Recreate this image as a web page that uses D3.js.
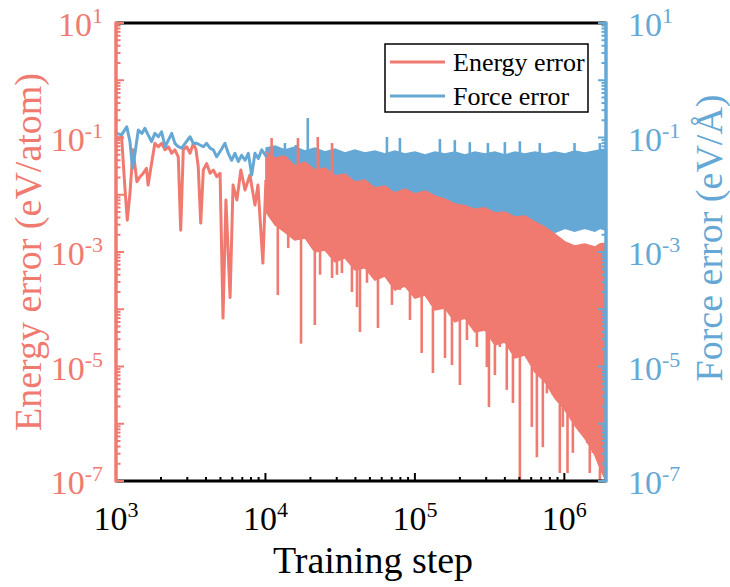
<!DOCTYPE html>
<html>
<head>
<meta charset="utf-8">
<script src="https://cdn.jsdelivr.net/npm/d3@7.9.0/dist/d3.min.js"></script>
<style>
  body { margin: 0; background: #fff; }
  svg { display: block; }
  text { font-family: 'Liberation Serif'; }
</style>
</head>
<body>
<svg id="chart" width="730" height="587"></svg>
<script>
// early part of the curves (single visible line)
const forceEarlySteps = [1010, 1090, 1180, 1240, 1290, 1340, 1410, 1490, 1560, 1640, 1730, 1820, 1920, 2020, 2130, 2240, 2360, 2480, 2610, 2750, 2900, 3130, 3290, 3470, 3650, 3840, 4040, 4260, 4480, 4720, 4970, 5360, 5640, 5940, 6250, 6580, 6930, 7300, 7680, 8090, 8510, 8960, 9440, 10190];
const forceEarlyErr = [0.118, 0.111, 0.154, 0.085, 0.029, 0.053, 0.135, 0.118, 0.145, 0.111, 0.085, 0.118, 0.103, 0.126, 0.069, 0.090, 0.118, 0.079, 0.069, 0.065, 0.079, 0.103, 0.079, 0.079, 0.074, 0.069, 0.079, 0.065, 0.061, 0.046, 0.057, 0.079, 0.053, 0.040, 0.053, 0.038, 0.049, 0.040, 0.053, 0.022, 0.053, 0.043, 0.061, 0.046];

const energyEarlySteps = [1000, 1040, 1090, 1150, 1190, 1240, 1300, 1380, 1450, 1520, 1600, 1640, 1730, 1820, 1920, 2020, 2130, 2240, 2360, 2480, 2610, 2710, 2820, 2970, 3130, 3290, 3430, 3550, 3690, 3840, 4040, 4260, 4480, 4720, 4970, 5200, 5440, 5800, 6070, 6440, 6850, 7300, 7870, 8510, 8910, 9610, 10070];
const energyEarlyErr = [0.103, 0.097, 0.103, 0.0121, 0.0036, 0.0106, 0.061, 0.0169, 0.0207, 0.0237, 0.029, 0.0148, 0.035, 0.079, 0.069, 0.079, 0.061, 0.069, 0.053, 0.061, 0.046, 0.0024, 0.061, 0.069, 0.053, 0.079, 0.061, 0.031, 0.0032, 0.027, 0.035, 0.0237, 0.027, 0.0207, 0.0237, 7.0e-5, 0.0081, 1.6e-4, 0.0148, 0.0081, 0.027, 0.0121, 0.0221, 0.0066, 0.0148, 6.4e-4, 0.0181];

// dense part: upper / lower envelope of the oscillating curves
const denseSteps = [1.01e4, 1.16e4, 1.35e4, 1.57e4, 1.84e4, 2.14e4, 2.50e4, 2.92e4, 3.40e4, 3.97e4, 4.63e4, 5.40e4, 6.30e4, 7.35e4, 8.57e4, 1.00e5, 1.17e5, 1.36e5, 1.59e5, 1.85e5, 2.16e5, 2.52e5, 2.94e5, 3.43e5, 4.00e5, 4.67e5, 5.44e5, 6.35e5, 7.41e5, 8.64e5, 1.01e6, 1.17e6, 1.37e6, 1.60e6, 1.73e6, 1.90e6];
const forceBandHigh = [0.0656, 0.0711, 0.0605, 0.0682, 0.0581, 0.0656, 0.0558, 0.0630, 0.0536, 0.0605, 0.0536, 0.0581, 0.0515, 0.0581, 0.0515, 0.0558, 0.0494, 0.0558, 0.0515, 0.0558, 0.0494, 0.0558, 0.0515, 0.0558, 0.0494, 0.0558, 0.0515, 0.0558, 0.0515, 0.0558, 0.0515, 0.0581, 0.0536, 0.0581, 0.0605, 0.0630];
const forceBandLow = [0.0181, 0.0148, 0.0131, 0.0112, 0.0103, 0.0095, 0.0088, 0.0081, 0.0078, 0.0072, 0.0066, 0.0061, 0.0056, 0.0052, 0.0050, 0.0046, 0.0043, 0.0039, 0.0038, 0.0036, 0.0035, 0.0033, 0.0032, 0.0031, 0.0030, 0.0028, 0.0028, 0.0027, 0.0026, 0.0022, 0.0026, 0.0023, 0.0026, 0.0023, 0.0026, 0.0024];
const energyBandHigh = [0.0558, 0.0438, 0.0475, 0.0318, 0.0373, 0.0271, 0.0293, 0.0213, 0.0230, 0.0167, 0.0181, 0.0131, 0.0142, 0.0107, 0.0126, 0.0103, 0.0116, 0.0095, 0.0084, 0.0069, 0.0064, 0.0056, 0.0059, 0.0048, 0.0050, 0.0041, 0.00425, 0.00334, 0.00273, 0.00206, 0.0015, 0.00127, 0.00138, 0.00122, 0.00138, 0.00144];
const energyBandLow = [0.0050, 0.00296, 0.00223, 0.00162, 0.00176, 1.0e-3, 0.00108, 6.7e-4, 7.9e-4, 4.85e-4, 5.3e-4, 3.24e-4, 3.81e-4, 2.17e-4, 2.55e-4, 1.57e-4, 1.77e-4, 9.7e-5, 1.05e-4, 6.0e-5, 7.0e-5, 4.0e-5, 4.35e-5, 2.38e-5, 2.68e-5, 1.41e-5, 1.59e-5, 8.0e-6, 5.4e-6, 2.8e-6, 1.74e-6, 9.5e-7, 5.6e-7, 2.85e-7, 1.69e-7, 1.0e-7];

// single excursions sticking out of the bands
const energyDipSteps = [1.21e4, 1.42e4, 1.73e4, 2.14e4, 2.32e4, 2.79e4, 3.01e4, 3.25e4, 3.79e4, 4.10e4, 4.29e4, 4.78e4, 5.66e4, 6.30e4, 7.02e4, 7.94e4, 9.27e4, 1.11e5, 1.20e5, 1.32e5, 1.47e5, 1.59e5, 1.77e5, 2.00e5, 2.23e5, 2.60e5, 3.03e5, 3.13e5, 3.43e5, 3.70e5, 4.12e5, 4.53e5, 5.04e5, 5.61e5, 6.06e5, 6.55e5, 7.18e5, 7.64e5, 8.38e5, 9.33e5, 9.77e5, 1.05e6, 1.14e6, 1.27e6, 1.42e6, 1.48e6, 1.55e6, 1.73e6, 1.88e6];
const energyDipErr = [1.77e-4, 1.17e-3, 2.5e-5, 5.3e-5, 4.0e-4, 3.5e-4, 4.0e-4, 4.3e-4, 2.0e-4, 1.09e-4, 4.0e-5, 2.9e-4, 4.7e-5, 7.2e-4, 1.19e-4, 2.17e-4, 6.5e-5, 1.72e-5, 2.17e-4, 7.7e-6, 1.09e-4, 1.41e-5, 1.06e-5, 4.75e-6, 2.9e-5, 2.19e-5, 9.8e-6, 1.96e-6, 7.1e-6, 2.19e-5, 3.9e-6, 2.3e-6, 1.0e-7, 1.72e-5, 8.8e-7, 2.6e-7, 3.9e-7, 3.4e-6, 8.7e-6, 1.38e-7, 8.8e-7, 1.38e-7, 3.1e-7, 8.8e-7, 4.6e-7, 1.38e-7, 3.1e-7, 1.04e-7, 3.9e-7];

const energyPeakSteps = [1.10e4, 1.65e4, 2.24e4, 2.79e4];
const energyPeakErr = [0.098, 0.098, 0.102, 0.080];

const forcePeakSteps = [1.35e4, 1.60e4, 1.92e4, 6.50e4, 7.94e4, 1.47e5, 1.85e5, 2.33e5, 3.08e5, 4.00e5, 5.04e5, 6.85e5, 1.17e6, 1.73e6];
const forcePeakErr = [0.080, 0.074, 0.219, 0.102, 0.098, 0.094, 0.090, 0.083, 0.080, 0.083, 0.086, 0.080, 0.080, 0.080];

const xTickLabels = [1e3, 1e4, 1e5, 1e6];
const yTickLabels = [1e1, 1e-1, 1e-3, 1e-5, 1e-7];

const red = "#F07A70";
const blue = "#66A8D5";
const serif = "Liberation Serif";

const svg = d3.select('#chart');
const margin = { top: 23, right: 124, bottom: 106, left: 116 };
const width = 730 - margin.left - margin.right;
const height = 587 - margin.top - margin.bottom;
const g = svg.append('g').attr('transform', `translate(${margin.left},${margin.top})`);

const x = d3.scaleLog().domain([1e3, 1.9e6]).range([0, width]);
const yL = d3.scaleLog().domain([1e-7, 1e1]).range([height, 0]);
const yR = d3.scaleLog().domain([1e-7, 1e1]).range([height, 0]);

svg.append('defs').append('clipPath').attr('id', 'clip')
  .append('rect').attr('width', width).attr('height', height);
const plot = g.append('g').attr('clip-path', 'url(#clip)');

const zip = (a, b) => a.map((s, i) => ({ s: s, v: b[i] }));

function band(steps, hi, lo, y, color) {
  const area = d3.area().x(d => x(d.s)).y0(d => y(d.lo)).y1(d => y(d.hi));
  plot.append('path')
    .datum(steps.map((s, i) => ({ s: s, hi: hi[i], lo: lo[i] })))
    .attr('fill', color).attr('stroke', color).attr('stroke-width', 1.5)
    .attr('d', area);
}

function spikes(steps, vals, envSteps, envVals, y, color) {
  const env = d3.scaleLog().domain(envSteps).range(envVals.map(v => y(v))).clamp(true);
  plot.append('g').selectAll('line')
    .data(zip(steps, vals))
    .join('line')
    .attr('x1', d => x(d.s)).attr('x2', d => x(d.s))
    .attr('y1', d => env(d.s)).attr('y2', d => y(d.v))
    .attr('stroke', color).attr('stroke-width', 2.6);
}

function curve(steps, vals, y, color) {
  const line = d3.line().x(d => x(d.s)).y(d => y(d.v));
  plot.append('path')
    .datum(zip(steps, vals))
    .attr('fill', 'none').attr('stroke', color).attr('stroke-width', 3)
    .attr('stroke-linejoin', 'round')
    .attr('d', line);
}

// force band behind, energy on top, early force line last
band(denseSteps, forceBandHigh, forceBandLow, yR, blue);
spikes(forcePeakSteps, forcePeakErr, denseSteps, forceBandHigh, yR, blue);

band(denseSteps, energyBandHigh, energyBandLow, yL, red);
spikes(energyDipSteps, energyDipErr, denseSteps, energyBandLow, yL, red);
spikes(energyPeakSteps, energyPeakErr, denseSteps, energyBandHigh, yL, red);
curve(energyEarlySteps, energyEarlyErr, yL, red);
curve(forceEarlySteps, forceEarlyErr, yR, blue);

// frame
g.append('line').attr('x1', 0).attr('x2', width).attr('y1', 0).attr('y2', 0)
  .attr('stroke', '#000').attr('stroke-width', 3);
g.append('line').attr('x1', 0).attr('x2', width).attr('y1', height).attr('y2', height)
  .attr('stroke', '#000').attr('stroke-width', 3);

const isDecade = v => Math.abs(Math.log10(v) - Math.round(Math.log10(v))) < 1e-6;

// x ticks (inward)
g.append('g').selectAll('line')
  .data(x.ticks())
  .join('line')
  .attr('x1', d => x(d)).attr('x2', d => x(d))
  .attr('y1', height).attr('y2', d => height - (isDecade(d) ? 8 : 4))
  .attr('stroke', '#000').attr('stroke-width', 2);

// y axes
function yAxis(y, x0, dir, color) {
  g.append('g').selectAll('line')
    .data(y.ticks())
    .join('line')
    .attr('x1', x0).attr('x2', d => x0 + dir * (isDecade(d) ? 8 : 4.5))
    .attr('y1', d => y(d)).attr('y2', d => y(d))
    .attr('stroke', color).attr('stroke-width', 2);
  g.append('line').attr('x1', x0).attr('x2', x0).attr('y1', -1.5).attr('y2', height + 1.5)
    .attr('stroke', color).attr('stroke-width', 3.5);
}
yAxis(yL, 0, 1, red);
yAxis(yR, width, -1, blue);

function powLabel(sel, v) {
  sel.append('tspan').text('10');
  sel.append('tspan').attr('dy', -13).attr('font-size', 22).text(Math.round(Math.log10(v)));
}

g.append('g').selectAll('text')
  .data(xTickLabels)
  .join('text')
  .attr('x', d => x(d)).attr('y', height + 49)
  .style('font-family', serif)
  .attr('text-anchor', 'middle').attr('font-size', 34).attr('fill', '#000')
  .each(function(d) { powLabel(d3.select(this), d); });

g.append('g').selectAll('text')
  .data(yTickLabels)
  .join('text')
  .attr('x', -13).attr('y', d => yL(d) + 13)
  .style('font-family', serif)
  .attr('text-anchor', 'end').attr('font-size', 34).attr('fill', red)
  .each(function(d) { powLabel(d3.select(this), d); });

g.append('g').selectAll('text')
  .data(yTickLabels)
  .join('text')
  .attr('x', width + 22).attr('y', d => yR(d) + 13)
  .style('font-family', serif)
  .attr('text-anchor', 'start').attr('font-size', 34).attr('fill', blue)
  .each(function(d) { powLabel(d3.select(this), d); });

// axis titles
svg.append('text')
  .attr('x', 373).attr('y', 573)
  .style('font-family', serif)
  .attr('text-anchor', 'middle').attr('font-size', 38).attr('fill', '#000')
  .text('Training step');
svg.append('text')
  .attr('transform', 'translate(41,252) rotate(-90)')
  .style('font-family', serif)
  .attr('text-anchor', 'middle').attr('font-size', 38).attr('fill', red)
  .text('Energy error (eV/atom)');
svg.append('text')
  .attr('transform', 'translate(722,238) rotate(-90)')
  .style('font-family', serif)
  .attr('text-anchor', 'middle').attr('font-size', 38).attr('fill', blue)
  .text('Force error (eV/Å)');

// legend
const legendData = [
  { label: 'Energy error', color: red },
  { label: 'Force error', color: blue }
];
const legend = svg.append('g').attr('transform', 'translate(385,44)');
legend.append('rect')
  .attr('width', 203).attr('height', 68)
  .attr('fill', '#fff').attr('stroke', '#000').attr('stroke-width', 1.5);
legendData.forEach((d, i) => {
  const row = legend.append('g').attr('transform', `translate(0, ${18 + i * 34})`);
  row.append('line').attr('x1', 5).attr('x2', 60).attr('y1', 0).attr('y2', 0)
    .attr('stroke', d.color).attr('stroke-width', 3);
  row.append('text').attr('x', 68).attr('y', 9)
    .style('font-family', serif)
    .attr('font-size', 26).attr('fill', '#000').text(d.label);
});
</script>
</body>
</html>
